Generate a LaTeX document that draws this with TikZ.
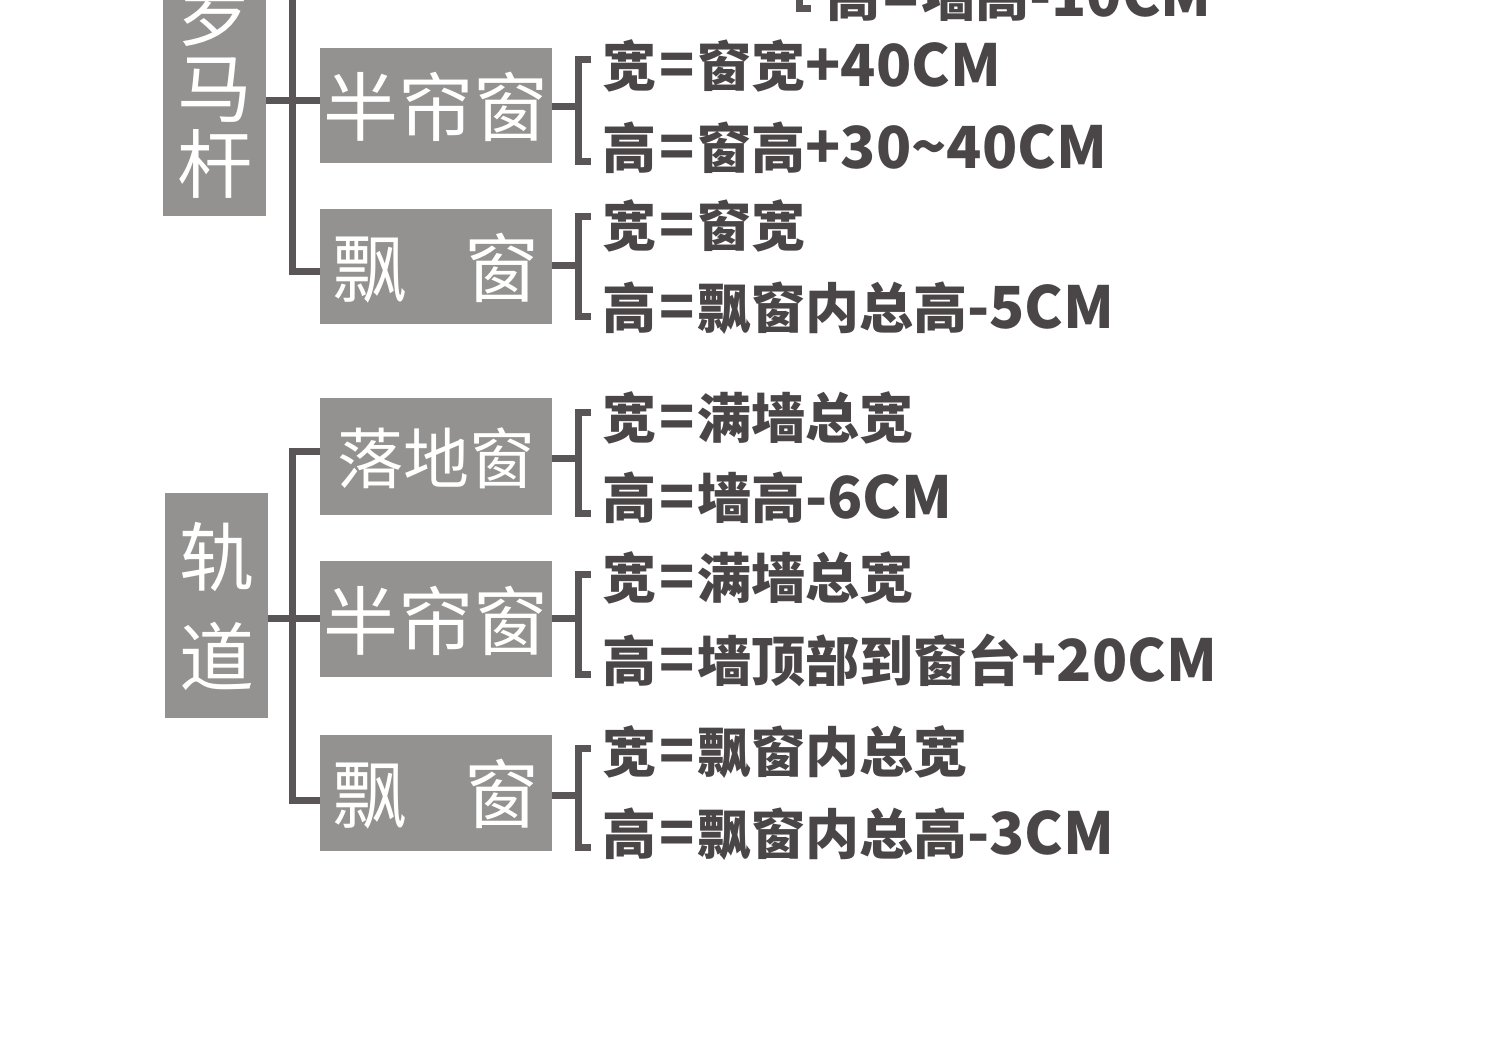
\documentclass[tikz,border=0pt]{standalone}
\usepackage{fontspec}
\newfontfamily\boxfont{Noto Sans CJK SC}
\newfontfamily\latfont{Noto Sans CJK SC}
\newcommand\cj[1]{{\fontsize{27}{27}\selectfont #1}}
\newcommand\eqs{\makebox[20.5pt]{=}}
\definecolor{boxgray}{HTML}{939291}
\definecolor{linegray}{HTML}{5A5657}
\definecolor{txtgray}{HTML}{4A4546}
\tikzset{
  gbox/.style={fill=boxgray, draw=none, inner sep=0pt},
  boxtxt/.style={text=white, font=\boxfont\fontsize{37.5}{37.5}\selectfont, inner sep=0pt},
  boxtxtsm/.style={text=white, font=\boxfont\fontsize{33}{33}\selectfont, inner sep=0pt},
  conn/.style={draw=linegray, line width=3.5pt, line join=miter, line cap=butt},
  lbl/.style={text=txtgray, font=\latfont\bfseries\fontsize{29}{29}\selectfont, inner sep=0pt, anchor=west}
}
\begin{document}
\begin{tikzpicture}[x=0.5pt, y=-0.5pt]
\useasboundingbox (0,0) rectangle (1500,1044);
\clip (0,0) rectangle (1500,1044);
\fill[white] (0,0) rectangle (1500,1044);

% ---------- section 1 : 罗马杆 ----------
\node[gbox, minimum width=51.5pt, minimum height=128pt] (root1) at (214.5,88) {};
\node[boxtxt] (r1a) at (214.5,14) {罗};
\node[boxtxt] (r1b) at (214.5,90) {马};
\node[boxtxt] (r1c) at (214.5,164) {杆};

\node[gbox, minimum width=116pt, minimum height=57.5pt] (b1) at (436,105.5) {};
\node[boxtxt] (b1t) at (436,107) {半帘窗};
\node[gbox, minimum width=116pt, minimum height=57.5pt] (b2) at (436,266.5) {};
\node[boxtxt] (b2t) at (436,268) {飘\hspace{29pt}窗};

\coordinate (j1top) at (292.5,-20);
\coordinate (j1a) at (292.5,100);
\coordinate (j1b) at (292.5,271);
\draw[conn] (j1top) -- (j1b) -- (b2.west |- j1b);
\draw[conn] (root1.east |- j1a) -- (b1.west |- j1a);

% top (cut) row
\coordinate (k0) at (799,-30);
\coordinate (k0b) at (799,8);
\draw[conn] (k0) -- (k0b) -- (811,8);
\node[lbl] (t0b) at (826,-4) {\cj{高}\eqs\cj{墙高}-10CM};

% ---------- section 2 : 轨道 ----------
\node[gbox, minimum width=51.5pt, minimum height=112.5pt] (root2) at (216.5,605.5) {};
\node[boxtxt] (r2a) at (216.5,557) {轨};
\node[boxtxt] (r2b) at (216.5,656) {道};

\node[gbox, minimum width=116pt, minimum height=58.5pt] (b3) at (436,456.5) {};
\node[boxtxtsm] (b3t) at (436,458) {落地窗};
\node[gbox, minimum width=116pt, minimum height=58pt] (b4) at (436,619) {};
\node[boxtxt] (b4t) at (436,620.5) {半帘窗};
\node[gbox, minimum width=116pt, minimum height=58pt] (b5) at (436,793) {};
\node[boxtxt] (b5t) at (436,794.5) {飘\hspace{29pt}窗};

\coordinate (j2a) at (292.5,451.5);
\coordinate (j2b) at (292.5,618);
\coordinate (j2c) at (292.5,800);
\draw[conn] (b3.west |- j2a) -- (j2a) -- (j2c) -- (b5.west |- j2c);
\draw[conn] (root2.east |- j2b) -- (b4.west |- j2b);

% ---------- brackets and labels ----------
% b1
\draw[conn] (b1.east |- 0,106) -- (578.5,106);
\draw[conn] (591,59) -- (578.5,59) -- (578.5,161) -- (591,161);
\node[lbl] (t1a) at (602,66) {\cj{宽}\eqs\cj{窗宽}+40CM};
\node[lbl] (t1b) at (602,148) {\cj{高}\eqs\cj{窗高}+30{\string~}40CM};
% b2
\draw[conn] (b2.east |- 0,265) -- (578.5,265);
\draw[conn] (591,216) -- (578.5,216) -- (578.5,316) -- (591,316);
\node[lbl] (t2a) at (602,226) {\cj{宽}\eqs\cj{窗宽}};
\node[lbl] (t2b) at (602,308) {\cj{高}\eqs\cj{飘窗内总高}-5CM};
% b3
\draw[conn] (b3.east |- 0,458) -- (578.5,458);
\draw[conn] (591,412) -- (578.5,412) -- (578.5,513) -- (591,513);
\node[lbl] (t3a) at (602,418) {\cj{宽}\eqs\cj{满墙总宽}};
\node[lbl] (t3b) at (602,498) {\cj{高}\eqs\cj{墙高}-6CM};
% b4
\draw[conn] (b4.east |- 0,618) -- (578.5,618);
\draw[conn] (591,574) -- (578.5,574) -- (578.5,674) -- (591,674);
\node[lbl] (t4a) at (602,578) {\cj{宽}\eqs\cj{满墙总宽}};
\node[lbl] (t4b) at (602,660) {\cj{高}\eqs\cj{墙顶部到窗台}+20CM};
% b5
\draw[conn] (b5.east |- 0,795) -- (578.5,795);
\draw[conn] (591,748) -- (578.5,748) -- (578.5,847) -- (591,847);
\node[lbl] (t5a) at (602,752) {\cj{宽}\eqs\cj{飘窗内总宽}};
\node[lbl] (t5b) at (602,834) {\cj{高}\eqs\cj{飘窗内总高}-3CM};
\end{tikzpicture}
\end{document}
